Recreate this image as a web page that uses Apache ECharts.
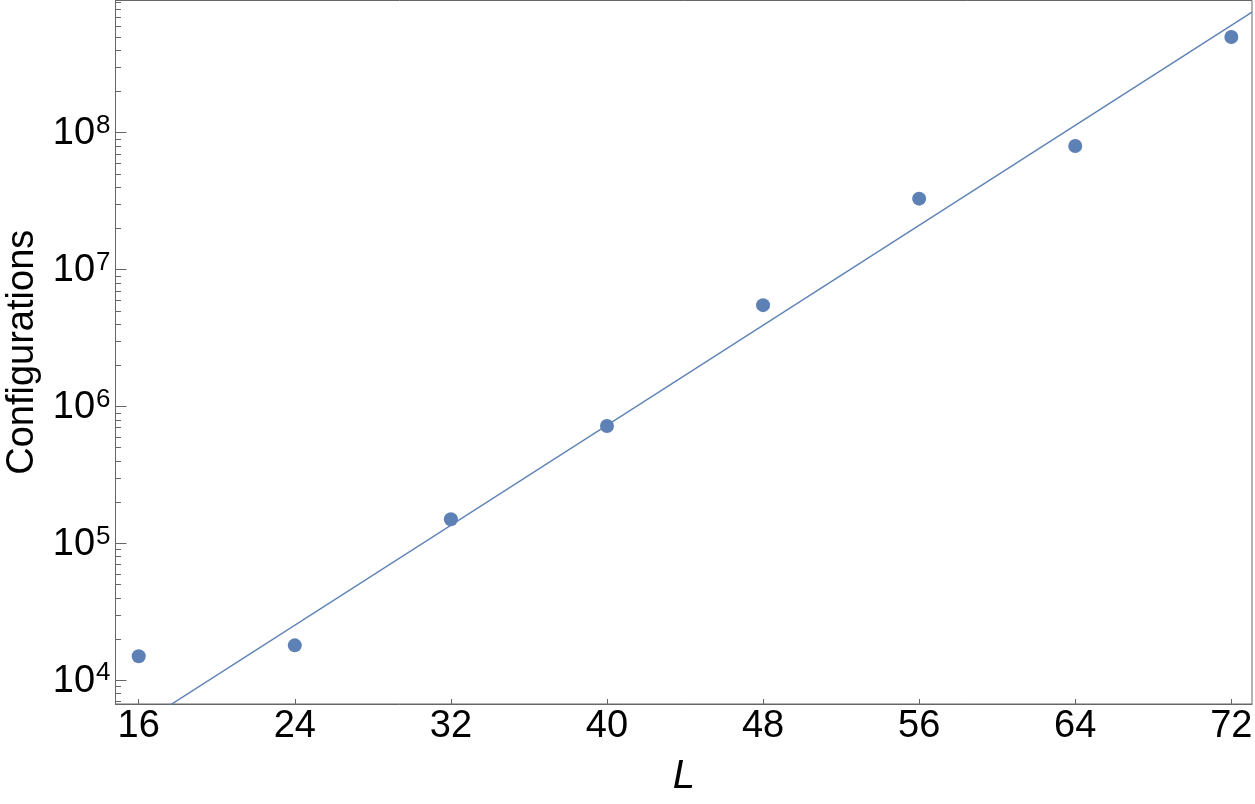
<!DOCTYPE html>
<html>
<head>
<meta charset="utf-8">
<script src="https://cdn.jsdelivr.net/npm/echarts@6/dist/echarts.min.js"></script>
<style>
  html, body { margin: 0; padding: 0; background: #ffffff; }
  #chart { width: 1255px; height: 804px; }
</style>
</head>
<body>
<div id="chart"></div>
<script>
// ---- data ----
const lValues = [16, 24, 32, 40, 48, 56, 64, 72];
const configurations = [1.5e4, 1.8e4, 1.5e5, 7.2e5, 5.5e6, 3.3e7, 8.0e7, 5.0e8];
const fitL = [14.8, 73.06];
const fitConfigurations = [3650, 7.6e8];
const xTicks = [16, 24, 32, 40, 48, 56, 64, 72];
const yMajorTicks = [1e4, 1e5, 1e6, 1e7, 1e8];
const yMinorTicks = [
  7e3, 8e3, 9e3,
  2e4, 3e4, 4e4, 5e4, 6e4, 7e4, 8e4, 9e4,
  2e5, 3e5, 4e5, 5e5, 6e5, 7e5, 8e5, 9e5,
  2e6, 3e6, 4e6, 5e6, 6e6, 7e6, 8e6, 9e6,
  2e7, 3e7, 4e7, 5e7, 6e7, 7e7, 8e7, 9e7,
  2e8, 3e8, 4e8, 5e8, 6e8, 7e8, 8e8, 9e8
];
const xMin = 14.81, xMax = 73.06;
const yMin = 6710, yMax = 9.25e8;

const COLOR = '#5E81B5';
const AXIS = '#666666';
const FONT = 'Liberation Sans';

const chart = echarts.init(document.getElementById('chart'), null, { renderer: 'canvas' });

const points = lValues.map((l, i) => [l, configurations[i]]);
const fitLine = fitL.map((l, i) => [l, fitConfigurations[i]]);

const option = {
  backgroundColor: '#ffffff',
  animation: false,
  grid: {
    left: 115.5, right: 3, top: 0.5, bottom: 100,
    outerBoundsMode: 'none', containLabel: false,
    show: true, borderColor: AXIS, borderWidth: 1, backgroundColor: 'transparent'
  },
  xAxis: {
    type: 'value', min: xMin, max: xMax,
    name: 'L', nameLocation: 'middle', nameGap: 53,
    nameTextStyle: { fontFamily: FONT, fontSize: 40, fontStyle: 'italic', color: '#000' },
    axisLine: { show: true, onZero: false, lineStyle: { color: AXIS, width: 1 } },
    axisTick: { show: true, inside: true, length: 5, customValues: xTicks, lineStyle: { color: AXIS } },
    axisLabel: { customValues: xTicks, margin: 4, fontFamily: FONT, fontSize: 38, color: '#000' },
    splitLine: { show: false }
  },
  yAxis: [
    {
      type: 'log', min: yMin, max: yMax,
      name: 'Configurations', nameLocation: 'middle', nameGap: 72, nameRotate: 90,
      nameTextStyle: { fontFamily: FONT, fontSize: 38, color: '#000' },
      axisLine: { show: true, onZero: false, lineStyle: { color: AXIS, width: 1 } },
      axisTick: { show: true, inside: true, length: 11, customValues: yMajorTicks, lineStyle: { color: AXIS } },
      axisLabel: {
        customValues: yMajorTicks, margin: 5, color: '#000',
        formatter: function (v) { return '{b|10}{s|' + Math.round(Math.log10(v)) + '}'; },
        rich: {
          b: { fontFamily: FONT, fontSize: 38, color: '#000', verticalAlign: 'bottom', lineHeight: 40 },
          s: { fontFamily: FONT, fontSize: 26, color: '#000', verticalAlign: 'top', lineHeight: 40, padding: [0, 0, 0, 1] }
        }
      },
      splitLine: { show: false }
    },
    {
      type: 'log', min: yMin, max: yMax, position: 'left',
      axisLine: { show: false },
      axisTick: { show: true, inside: true, length: 5.5, customValues: yMinorTicks, lineStyle: { color: AXIS } },
      axisLabel: { show: false },
      splitLine: { show: false }
    }
  ],
  series: [
    {
      type: 'line', data: fitLine, yAxisIndex: 0, showSymbol: false, symbol: 'none',
      clip: true, lineStyle: { color: COLOR, width: 1.4 }, z: 2
    },
    {
      type: 'scatter', data: points, yAxisIndex: 0, symbol: 'circle', symbolSize: 14,
      itemStyle: { color: COLOR, opacity: 1 }, clip: false, z: 3
    }
  ]
};
chart.setOption(option);
</script>
</body>
</html>
